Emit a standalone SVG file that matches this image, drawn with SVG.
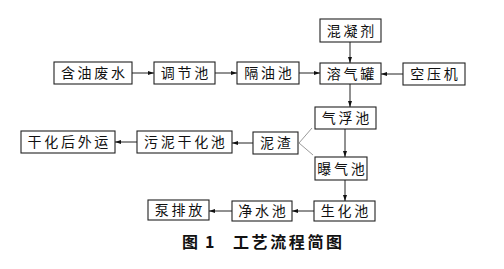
<svg xmlns="http://www.w3.org/2000/svg" width="504" height="269" viewBox="0 0 504 269">
<style>
rect.b{fill:#fff;stroke:#222;stroke-width:1.1}
text.t{font-family:"Noto Sans CJK SC","Noto Sans",sans-serif;font-size:14px;letter-spacing:2.7px;fill:#111;text-anchor:middle}
text.c{font-family:"Noto Sans CJK SC","Noto Sans",sans-serif;font-size:16px;font-weight:bold;fill:#111}
.ln{stroke:#222;stroke-width:1;fill:none}
.gl{stroke:#9a9a9a;stroke-width:1;fill:none}
</style>
<defs>
<marker id="ah" viewBox="0 0 6 4" refX="6" refY="2" markerWidth="6" markerHeight="4" orient="auto" markerUnits="userSpaceOnUse">
<path d="M0,0 L6,2 L0,4 Z" fill="#111"/>
</marker>
</defs>
<rect width="504" height="269" fill="#fff"/>
<g id="connectors">
<line class="ln" x1="132" y1="73" x2="154" y2="73" marker-end="url(#ah)"/>
<line class="ln" x1="215" y1="73" x2="237" y2="73" marker-end="url(#ah)"/>
<line class="ln" x1="299" y1="73" x2="320" y2="73" marker-end="url(#ah)"/>
<line class="ln" x1="403" y1="74" x2="381" y2="74" marker-end="url(#ah)"/>
<line class="ln" x1="350" y1="42" x2="350" y2="63" marker-end="url(#ah)"/>
<line class="ln" x1="350" y1="84" x2="350" y2="107" marker-end="url(#ah)"/>
<line class="ln" x1="345" y1="129" x2="345" y2="157" marker-end="url(#ah)"/>
<line class="ln" x1="345" y1="180" x2="345" y2="201" marker-end="url(#ah)"/>
<line class="ln" x1="314" y1="211" x2="292" y2="211" marker-end="url(#ah)"/>
<line class="ln" x1="232" y1="211" x2="209" y2="211" marker-end="url(#ah)"/>
<line class="ln" x1="253" y1="143" x2="232" y2="143" marker-end="url(#ah)"/>
<line class="ln" x1="137" y1="142" x2="115" y2="142" marker-end="url(#ah)"/>
<polyline class="gl" points="312,128 299,143 313,155"/>
</g>
<g id="n1"><rect class="b" x="54" y="62" width="78" height="22"/><text class="t" x="94.3" y="78">含油废水</text></g>
<g id="n2"><rect class="b" x="154" y="62" width="61" height="22"/><text class="t" x="185.8" y="78">调节池</text></g>
<g id="n3"><rect class="b" x="237" y="62" width="62" height="22"/><text class="t" x="269.3" y="78">隔油池</text></g>
<g id="n4"><rect class="b" x="320" y="19" width="61" height="23"/><text class="t" x="351.8" y="35.5">混凝剂</text></g>
<g id="n5"><rect class="b" x="320" y="63" width="61" height="21"/><text class="t" x="351.8" y="78.5">溶气罐</text></g>
<g id="n6"><rect class="b" x="403" y="63" width="62" height="22"/><text class="t" x="435.3" y="79">空压机</text></g>
<g id="n7"><rect class="b" x="315" y="107" width="61" height="22"/><text class="t" x="346.8" y="123">气浮池</text></g>
<g id="n8"><rect class="b" x="253" y="132" width="45" height="22"/><text class="t" x="276.8" y="148">泥渣</text></g>
<g id="n9"><rect class="b" x="137" y="131" width="95" height="22"/><text class="t" x="185.8" y="147">污泥干化池</text></g>
<g id="n10"><rect class="b" x="21" y="131" width="94" height="22"/><text class="t" x="69.3" y="147">干化后外运</text></g>
<g id="n11"><rect class="b" x="315" y="157" width="52" height="23"/><text class="t" x="342.3" y="173.5">曝气池</text></g>
<g id="n12"><rect class="b" x="314" y="201" width="61" height="20"/><text class="t" x="345.8" y="216">生化池</text></g>
<g id="n13"><rect class="b" x="232" y="201" width="60" height="20"/><text class="t" x="263.3" y="216">净水池</text></g>
<g id="n14"><rect class="b" x="148" y="200" width="61" height="20"/><text class="t" x="179.8" y="215">泵排放</text></g>
<g id="caption">
<text class="c" x="182" y="248">图</text>
<text class="c" x="205" y="248">1</text>
<text class="c" x="233" y="248" style="letter-spacing:2.6px">工艺流程简图</text>
</g>
</svg>
